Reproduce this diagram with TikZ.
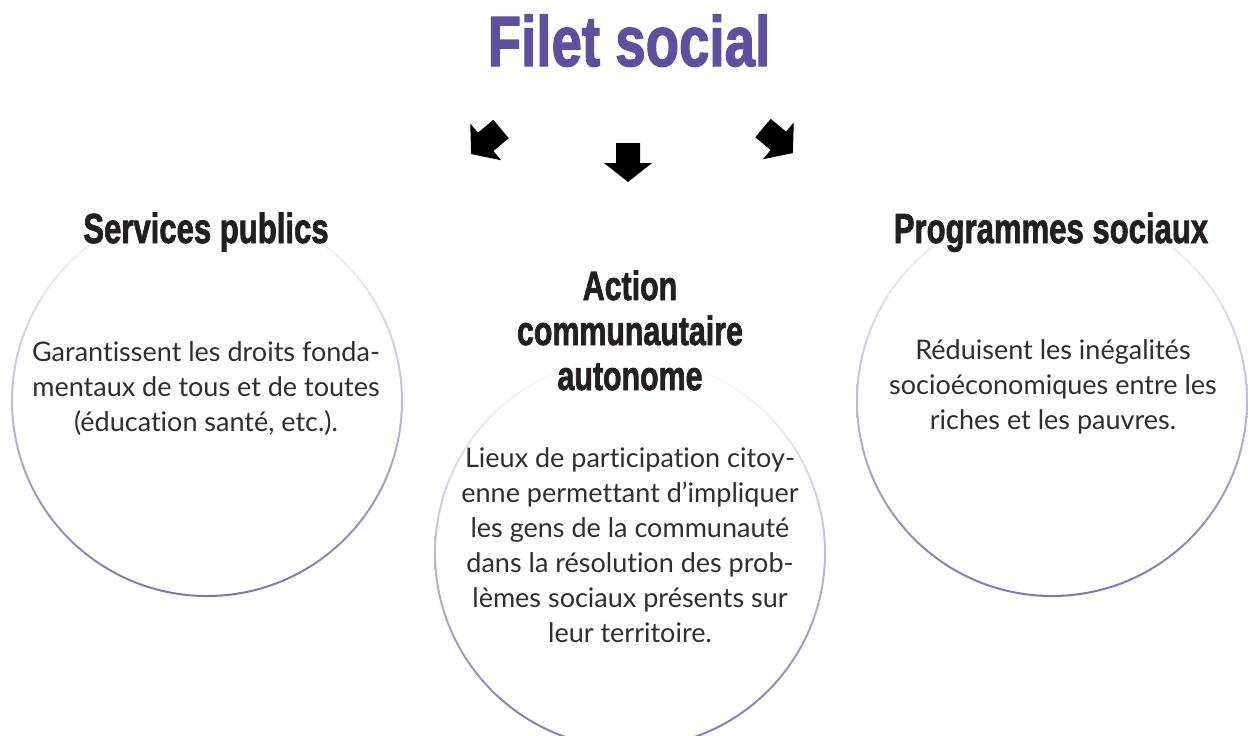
\documentclass[tikz,border=0pt]{standalone}
\usepackage{fontspec}
\setmainfont{Lato}[Ligatures=CommonOff]
\newfontfamily\headfont{Liberation Sans}[BoldFeatures={FakeBold=2}]
\usetikzlibrary{positioning}
\definecolor{titlepurple}{HTML}{5E4FA0}
\definecolor{ringpurple}{HTML}{8272BD}
\definecolor{headblack}{HTML}{231F20}
\definecolor{bodygray}{HTML}{2E2E2E}
\newcommand{\condensed}[1]{\scalebox{0.74}[1]{#1}}
\newcommand{\bigarrow}[2]{%
  \fill[black, shift={(#1)}, rotate=#2]
  (0,12) -- (20,12) -- (20,24) -- (39,0) -- (20,-24) -- (20,-12) -- (0,-12) -- cycle;}
\tikzset{
  ring/.style={top color=white, bottom color=ringpurple, even odd rule},
  heading/.style={font=\headfont\bfseries\fontsize{42}{45}\selectfont, text=headblack,
    inner sep=0pt, anchor=base, align=center},
  bodytext/.style={font=\fontsize{27}{35}\selectfont, text=bodygray, inner sep=0pt, align=center}
}

\begin{document}
\begin{tikzpicture}[x=1pt, y=-1pt]
    \useasboundingbox (0,0) rectangle (1248,736);
    %% Cercles
    \coordinate (leftc) at (207,401);
    \coordinate (midc) at (630,553);
    \coordinate (rightc) at (1052,401);
    \shade[ring] (leftc) circle (196pt) circle (194pt);
    \shade[ring] (midc) circle (196pt) circle (194pt);
    \shade[ring] (rightc) circle (196pt) circle (194pt);
    %% Titre
    \node[anchor=base, inner sep=0pt, text=titlepurple,
      font=\headfont\bfseries\fontsize{71}{75}\selectfont] (title) at (629,66)
      {\scalebox{0.77}[1]{Filet social}};
    %% Fleches
    \bigarrow{501,129}{220}
    \bigarrow{628,143}{-90}
    \bigarrow{763,128}{-40}
    %% Titres des cercles
    \node[heading] (services) at (206,243) {\condensed{Services publics}};
    \node[heading] (programmes) at (1051,243) {\condensed{Programmes sociaux}};
    \node[heading, font=\headfont\bfseries\fontsize{41}{45}\selectfont] (action) at (630,390)
      {\condensed{Action}\\\condensed{communautaire}\\\condensed{autonome}};
    %% Textes
    \node[bodytext] (servicestxt) at (206,389)
      {Garantissent les droits fonda-\\mentaux de tous et de toutes\\(éducation santé, etc.).};
    \node[bodytext] (actiontxt) at (630,545)
      {Lieux de participation citoy-\\enne permettant d’impliquer\\les gens de la communauté\\dans la résolution des prob-\\lèmes sociaux présents sur\\leur territoire.};
    \node[bodytext] (programmestxt) at (1053,387)
      {Réduisent les inégalités\\socioéconomiques entre les\\riches et les pauvres.};
\end{tikzpicture}
\end{document}
